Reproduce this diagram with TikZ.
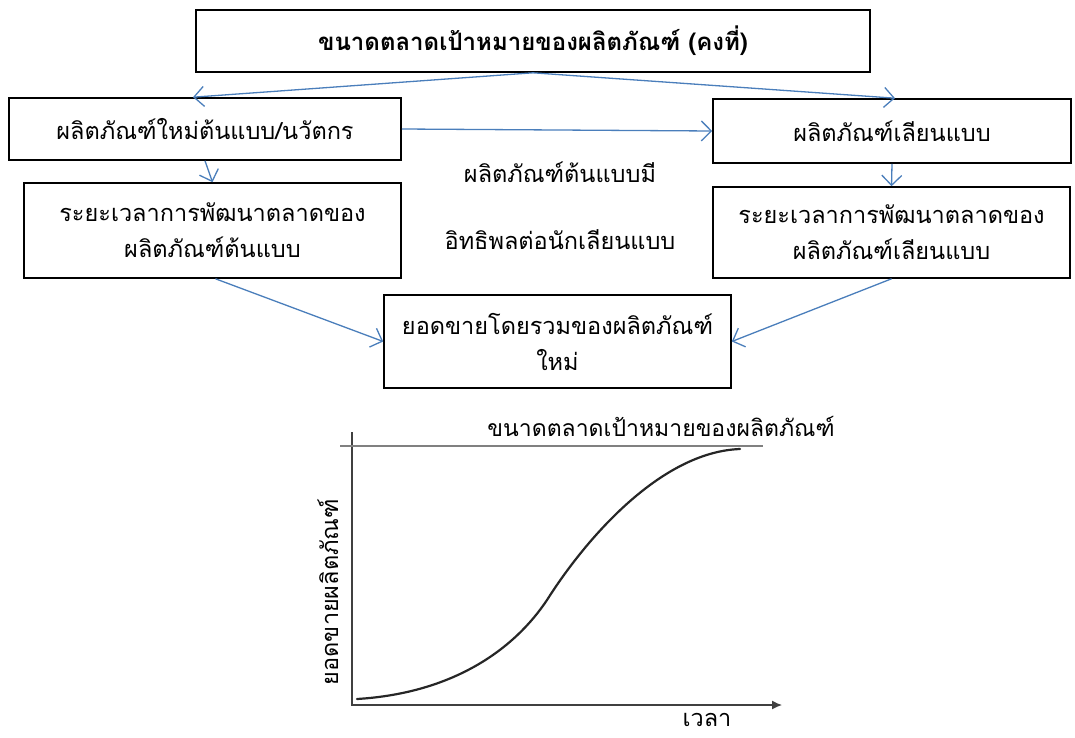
\documentclass[tikz,border=0pt]{standalone}
\usepackage{fontspec}
\setmainfont{Loma}[Script=Thai]
\usetikzlibrary{arrows.meta}
\definecolor{arrblue}{HTML}{4A7EBB}
\tikzset{
  box/.style={draw=black, line width=1.6pt, align=center, font=\fontsize{23.5}{36}\selectfont, inner sep=0pt},
  conn/.style={draw=arrblue, line width=1.3pt, -{Straight Barb[length=10pt,width=20pt,line width=1.3pt]}},
  plain/.style={font=\fontsize{23.5}{36}\selectfont, inner sep=0pt},
}
\begin{document}
\begin{tikzpicture}[x=1pt,y=-1pt]
\useasboundingbox (0,0) rectangle (1075,738);
% boxes
\node[box, font=\fontsize{24}{36}\selectfont\bfseries, minimum width=674pt, minimum height=62pt] (top) at (533,41) {ขนาดตลาดเป้าหมายของผลิตภัณฑ์ (คงที่)};
\node[box, minimum width=392pt, minimum height=62pt] (A) at (205,129) {ผลิตภัณฑ์ใหม่ต้นแบบ/นวัตกร};
\node[box, minimum width=358pt, minimum height=64pt] (B) at (892,131) {ผลิตภัณฑ์เลียนแบบ};
\node[box, minimum width=377pt, minimum height=95pt] (C) at (212.5,230.5) {ระยะเวลาการพัฒนาตลาดของ\\ผลิตภัณฑ์ต้นแบบ};
\node[box, minimum width=357pt, minimum height=91pt] (D) at (891.5,232.5) {ระยะเวลาการพัฒนาตลาดของ\\ผลิตภัณฑ์เลียนแบบ};
\node[box, minimum width=347pt, minimum height=93pt] (E) at (557.5,341.5) {ยอดขายโดยรวมของผลิตภัณฑ์\\ใหม่};
% middle text
\node[plain] (m1) at (560,172) {ผลิตภัณฑ์ต้นแบบมี};
\node[plain] (m2) at (560,240) {อิทธิพลต่อนักเลียนแบบ};
% connectors
\draw[conn] (top.south) -- ([xshift=-12pt]A.north);
\draw[conn] (top.south) -- ([xshift=3pt]B.north);
\draw[conn] (A.east) -- (B.west);
\draw[conn] (A.south) -- (C.north);
\draw[conn] (B.south) -- (D.north);
\draw[conn] ([xshift=3pt]C.south) -- (E.west);
\draw[conn] (D.south) -- (E.east);
% graph
\coordinate (O) at (352,705);
\coordinate (Ytop) at (352,432);
\coordinate (Xend) at (782,705);
\coordinate (Hl) at (340,446);
\coordinate (Hr) at (763,446);
\coordinate (c0) at (357,699);
\coordinate (c1) at (547,600);
\coordinate (c2) at (740,449);
\draw[line width=1.3pt, draw=black!75, -{Latex[length=10pt,width=9pt]}] (Ytop) -- (O) -- (Xend);
\draw[line width=1.3pt, draw=black!50] (Hl) -- (Hr);
\draw[line width=2.2pt, black!85, line cap=round] (c0) .. controls (455,693) and (515,648) .. (c1) .. controls (585,540) and (660,452) .. (c2);
\node[plain, font=\fontsize{23}{30}\selectfont, anchor=south] (tl) at (661,437) {ขนาดตลาดเป้าหมายของผลิตภัณฑ์};
\node[plain, rotate=90] (yl) at (328,592) {ยอดขายผลิตภัณฑ์};
\node[plain] (xl) at (707,720) {เวลา};
\end{tikzpicture}
\end{document}
